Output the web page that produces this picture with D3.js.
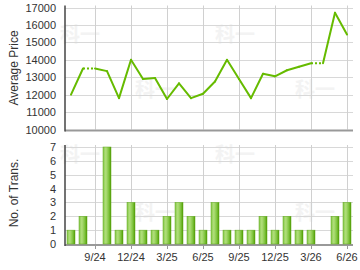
<!DOCTYPE html>
<html lang="en">
<head>
<meta charset="UTF-8">
<title>Average Price and Transactions</title>
<script src="https://d3js.org/d3.v7.min.js"></script>
<style>
    body { margin: 0; background: #fff; }
    text { font-family: "Liberation Sans", Arial, sans-serif; fill: #333; }
</style>
</head>
<body>
<div id="chart"></div>
<script>
    // one entry per month, 7/24 .. 6/26 (null = no transactions that month)
    const months = ["7/24","8/24","9/24","10/24","11/24","12/24","1/25","2/25","3/25","4/25","5/25","6/25",
                    "7/25","8/25","9/25","10/25","11/25","12/25","1/26","2/26","3/26","4/26","5/26","6/26"];
    const prices = [12000, 13500, null, 13350, 11800, 14000, 12900, 12950, 11750, 12650, 11800, 12050,
                    12750, 14000, 12900, 11800, 13200, 13050, 13400, 13600, 13800, null, 16700, 15450];
    const trans = [1, 2, 0, 7, 1, 3, 1, 1, 2, 3, 2, 1, 3, 1, 1, 1, 2, 1, 2, 1, 1, 0, 2, 3];
    const tickLabels = ["9/24","12/24","3/25","6/25","9/25","12/25","3/26","6/26"];
    const priceTicks = [10000, 11000, 12000, 13000, 14000, 15000, 16000, 17000];
    const transTicks = [0, 1, 2, 3, 4, 5, 6, 7];

    const width = 360, height = 270;
    const svg = d3.select("#chart").append("svg")
        .attr("width", width).attr("height", height);

    const defs = svg.append("defs");
    const grad = defs.append("linearGradient").attr("id", "barGrad")
        .attr("x1", "0%").attr("x2", "100%").attr("y1", "0%").attr("y2", "0%");
    grad.append("stop").attr("offset", "0%").attr("stop-color", "#86c94a");
    grad.append("stop").attr("offset", "35%").attr("stop-color", "#b2df7c");
    grad.append("stop").attr("offset", "75%").attr("stop-color", "#7cc23a");
    grad.append("stop").attr("offset", "100%").attr("stop-color", "#4f9a00");

    const x = d3.scaleLinear().domain([-0.5, 23.5]).range([65, 353]);
    const idx = tickLabels.map(t => months.indexOf(t));

    const yP = d3.scaleLinear().domain([10000, 17000]).range([129.5, 7.5]);
    const yT = d3.scaleLinear().domain([0, 7]).range([244, 147]);

    // faint watermarks
    const marks = [[80, 42], [155, 97], [235, 42], [315, 97], [80, 162], [155, 220], [235, 162], [315, 220]];
    svg.append("g").selectAll("text").data(marks).join("text")
        .attr("x", d => d[0]).attr("y", d => d[1])
        .attr("text-anchor", "middle")
        .style("font-family", "'Noto Sans CJK SC', sans-serif")
        .style("font-size", "20px").style("font-weight", "bold")
        .style("fill", "#f3f3f3")
        .text("科一");

    function panel(y, ticks, fmtTitle, titleY, showX) {
        const g = svg.append("g");
        // horizontal grid
        g.selectAll(".hg").data(ticks).join("line")
            .attr("x1", x.range()[0]).attr("x2", x.range()[1])
            .attr("y1", d => Math.round(y(d)) + 0.5).attr("y2", d => Math.round(y(d)) + 0.5)
            .attr("stroke", "#d8d8d8");
        // vertical grid
        g.selectAll(".vg").data(idx).join("line")
            .attr("x1", d => Math.round(x(d)) + 0.5).attr("x2", d => Math.round(x(d)) + 0.5)
            .attr("y1", y.range()[1] - 2).attr("y2", y.range()[0])
            .attr("stroke", "#d0d0d0");
        // y labels
        g.selectAll(".yl").data(ticks).join("text")
            .attr("x", 56).attr("y", d => y(d) + 4)
            .attr("text-anchor", "end")
            .style("font-size", "11px")
            .text(d => d);
        // axes
        g.append("line")
            .attr("x1", x.range()[0]).attr("x2", x.range()[1])
            .attr("y1", y.range()[0] + 1).attr("y2", y.range()[0] + 1)
            .attr("stroke", "#999").attr("stroke-width", 2);
        g.append("line")
            .attr("x1", x.range()[0]).attr("x2", x.range()[0])
            .attr("y1", y.range()[1] - 2).attr("y2", y.range()[0] + 2)
            .attr("stroke", "#444").attr("stroke-width", 1.5);
        g.append("text")
            .attr("transform", `translate(18,${titleY}) rotate(-90)`)
            .attr("text-anchor", "middle")
            .style("font-size", "12px")
            .text(fmtTitle);
        if (showX) {
            g.selectAll(".xt").data(idx).join("line")
                .attr("x1", d => Math.round(x(d)) + 0.5).attr("x2", d => Math.round(x(d)) + 0.5)
                .attr("y1", y.range()[0] + 2).attr("y2", y.range()[0] + 5)
                .attr("stroke", "#999");
            g.selectAll(".xl").data(tickLabels).join("text")
                .attr("x", (d, i) => x(idx[i])).attr("y", 261)
                .attr("text-anchor", "middle")
                .style("font-size", "11px")
                .text(d => d);
        }
        return g;
    }

    panel(yP, priceTicks, "Average Price", 68, false);
    const gb = panel(yT, transTicks, "No. of Trans.", 193, true);

    // bars
    const bw = 8;
    gb.selectAll(".bar").data(trans.map((v, i) => ({ v, i })).filter(d => d.v > 0)).join("rect")
        .attr("x", d => x(d.i) - bw / 2)
        .attr("y", d => yT(d.v))
        .attr("width", bw)
        .attr("height", d => yT(0) - yT(d.v))
        .attr("fill", "url(#barGrad)")
        .attr("stroke", "#5fa81a").attr("stroke-width", 0.5);

    // price line: months with no data carry the previous price, drawn dotted
    const pts = [];
    let last = null;
    prices.forEach((p, i) => {
        const filled = p === null;
        const v = filled ? last : p;
        last = v;
        pts.push({ i, v, filled });
    });
    const gl = svg.append("g");
    for (let k = 0; k < pts.length - 1; k++) {
        const a = pts[k], b = pts[k + 1];
        gl.append("line")
            .attr("x1", x(a.i)).attr("y1", yP(a.v))
            .attr("x2", x(b.i)).attr("y2", yP(b.v))
            .attr("stroke", "#66bb00")
            .attr("stroke-width", 2)
            .attr("stroke-linecap", b.filled ? "butt" : "round")
            .attr("stroke-dasharray", b.filled ? "2,2" : null);
    }
</script>
</body>
</html>
